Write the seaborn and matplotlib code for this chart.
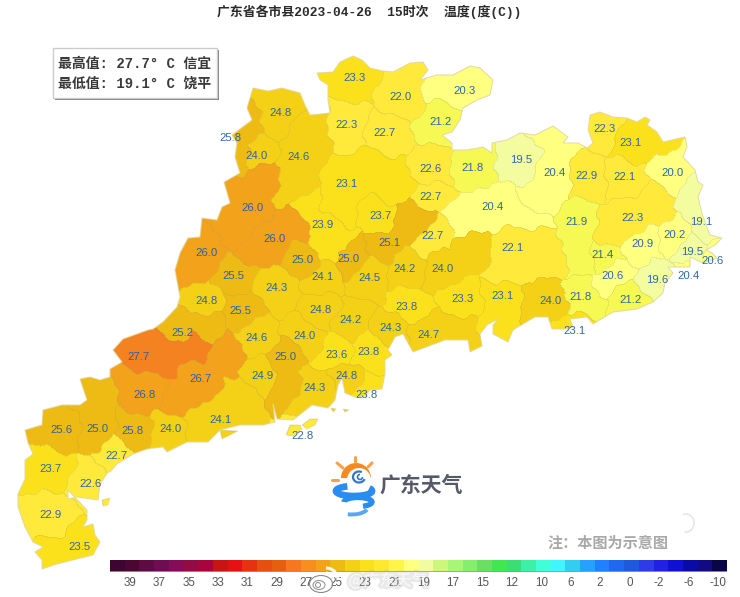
import numpy as np
import pandas as pd
import matplotlib
matplotlib.use("Agg")
import matplotlib.pyplot as plt
import seaborn as sns
from matplotlib.colors import ListedColormap, BoundaryNorm
from matplotlib.path import Path
from matplotlib.patches import Polygon, Rectangle, Wedge, Circle, Arc, Ellipse
import matplotlib.patheffects as pe

# -------------------------------
# DATA (map grid = picture pixels)
# -------------------------------

station_temp = [23.3, 22.0, 20.3, 24.8, 22.3, 22.7, 21.2, 25.8, 24.0, 24.6, 22.6, 21.8, 19.5, 20.4,
                22.3, 23.1, 22.9, 22.1, 20.0, 23.1, 22.7, 20.4, 23.7, 26.0, 23.9, 22.3, 21.9, 19.1,
                26.0, 22.7, 25.1, 22.1, 20.2, 20.9, 26.0, 25.0, 25.0, 24.2, 24.0, 21.4, 19.5, 20.6,
                20.4, 20.6, 19.6, 25.5, 24.1, 24.5, 24.3, 23.3, 23.1, 21.8, 21.2, 24.0, 24.8, 25.5,
                24.8, 23.8, 24.2, 24.3, 24.7, 23.1, 25.2, 24.6, 25.0, 24.0, 23.6, 23.8, 27.7, 26.7,
                26.8, 24.9, 24.3, 24.8, 23.8, 24.1, 25.6, 25.0, 25.8, 24.0, 22.7, 22.8, 23.7, 22.6,
                22.9, 23.5]
station_x = [354, 400, 465, 281, 347, 385, 441, 230, 256, 299, 431, 472, 521, 554,
             604, 631, 587, 624, 672, 346, 430, 492, 381, 252, 322, 632, 577, 701,
             275, 433, 389, 513, 675, 642, 207, 302, 348, 405, 443, 603, 692, 713,
             688, 612, 657, 233, 323, 369, 277, 462, 502, 581, 630, 551, 206, 240,
             321, 406, 351, 390, 428, 574, 182, 256, 285, 305, 336, 368, 138, 200,
             144, 262, 315, 347, 367, 220, 61, 97, 132, 170, 117, 302, 50, 90,
             51, 79]
station_y = [78, 97, 91, 113, 125, 133, 122, 138, 156, 157, 169, 168, 160, 173,
             129, 143, 176, 177, 173, 184, 197, 207, 216, 208, 225, 218, 222, 222,
             239, 236, 243, 248, 235, 244, 253, 260, 259, 269, 269, 255, 252, 261,
             276, 276, 280, 276, 277, 278, 288, 299, 296, 297, 300, 301, 301, 311,
             310, 307, 320, 328, 335, 331, 333, 338, 357, 336, 355, 352, 357, 379,
             395, 376, 388, 376, 395, 420, 430, 429, 431, 429, 456, 436, 469, 484,
             515, 547]

# extra points that give the big counties their shape
extra_temp = [25.8, 25.8, 23.1, 23.1, 23.1, 23.9, 23.9, 24.6, 24.6, 26.0, 26.0, 26.0, 26.0, 26.0,
              26.0, 26.0, 26.0, 27.7, 27.7, 27.7, 26.8, 26.7, 26.7, 25.0, 25.0, 25.2, 24.1, 24.1,
              22.1, 22.1, 22.1, 20.4, 20.4, 20.4, 20.4, 21.9, 22.3, 22.3, 23.1, 19.1, 24.0, 23.1,
              24.7, 25.1, 25.1, 23.5, 24.0, 23.3, 22.0, 20.3, 24.3]
extra_x = [242, 240, 370, 395, 335, 310, 335, 310, 290, 265, 245, 240, 262, 295,
           255, 235, 190, 125, 170, 192, 130, 225, 182, 97, 284, 208, 240, 198,
           530, 548, 506, 530, 466, 555, 540, 582, 655, 612, 650, 696, 472, 500,
           456, 406, 420, 50, 540, 338, 412, 440, 312]
extra_y = [132, 158, 170, 186, 205, 210, 248, 130, 185, 178, 190, 194, 178, 225,
           247, 232, 266, 350, 350, 346, 380, 355, 402, 395, 385, 325, 400, 425,
           238, 256, 268, 218, 218, 140, 200, 255, 205, 231, 135, 195, 250, 326,
           332, 226, 217, 560, 306, 65, 72, 80, 406]

# province outline
outline_x = [253, 268, 282, 300, 305, 310, 330, 328, 328, 320, 317, 333, 340, 353, 362, 370, 383, 393, 410, 423, 428, 420,
             437, 453, 470, 480, 493, 490, 477, 463, 460, 452, 442, 452, 452, 467, 483, 492, 492, 507, 520, 535, 553, 568,
             563, 578, 587, 593, 588, 590, 600, 613, 627, 637, 645, 650, 647, 657, 663, 685, 687, 683, 695, 698, 703, 698,
             703, 710, 722, 715, 706, 712, 717, 703, 690, 690, 678, 668, 673, 665, 663, 653, 637, 613, 593, 587, 570, 573,
             567, 552, 548, 535, 523, 513, 508, 493, 493, 498, 487, 480, 482, 470, 468, 445, 413, 403, 395, 388, 392, 385,
             385, 382, 370, 365, 355, 345, 342, 338, 335, 328, 312, 293, 277, 273, 275, 263, 240, 220, 208, 187, 167, 163,
             147, 133, 117, 110, 108, 100, 98, 77, 68, 68, 87, 87, 83, 93, 95, 100, 93, 73, 57, 42, 42, 35, 43, 33,
             25, 18, 18, 25, 25, 33, 28, 25, 42, 43, 62, 80, 87, 80, 90, 100, 110, 110, 122, 113, 123, 148, 153, 163,
             177, 180, 175, 180, 188, 200, 202, 217, 222, 230, 224, 240, 235, 237, 232, 252, 247]
outline_y = [88, 91, 88, 93, 105, 115, 113, 100, 85, 80, 73, 72, 62, 56, 60, 68, 71, 72, 63, 62, 70, 80,
             75, 75, 66, 68, 80, 95, 100, 108, 120, 132, 135, 143, 150, 150, 147, 153, 143, 140, 133, 135, 126, 137,
             143, 143, 148, 143, 130, 115, 112, 117, 118, 122, 117, 120, 125, 132, 142, 137, 147, 157, 170, 182, 185, 197,
             217, 235, 238, 245, 250, 253, 258, 263, 257, 267, 267, 267, 273, 283, 293, 302, 309, 312, 324, 317, 319, 327,
             329, 329, 317, 317, 324, 330, 342, 334, 325, 319, 325, 334, 346, 352, 340, 340, 352, 334, 337, 350, 355, 360,
             374, 389, 390, 396, 397, 393, 378, 385, 400, 408, 405, 420, 419, 404, 422, 425, 425, 430, 442, 442, 452, 447,
             449, 454, 464, 472, 472, 484, 500, 497, 499, 490, 510, 520, 527, 524, 535, 542, 555, 560, 564, 569, 560, 552, 547, 542,
             527, 507, 494, 479, 460, 454, 443, 430, 425, 410, 405, 405, 400, 379, 377, 380, 377, 369, 362, 350, 339, 330, 329, 322,
             307, 297, 270, 253, 238, 237, 218, 220, 207, 203, 182, 173, 157, 143, 135, 120, 108]

# small islands: x list, y list, temperature
island_x = [[286, 290, 300, 302, 293], [302, 310, 318, 315, 307], [220, 238, 222], [102, 110, 108, 103],
            [331, 336, 333], [343, 349, 345]]
island_y = [[435, 425, 425, 429, 436], [425, 419, 419, 425, 429], [430, 431, 439], [500, 498, 505, 506],
            [408, 409, 412], [409, 410, 412]]
island_temp = [22.8, 22.8, 24.1, 22.6, 24.3, 24.8]

# map colour for each whole degree
map_bounds = [19, 20, 21, 22, 23, 24, 25, 26, 27, 28]
map_colors = ["#f3fda0", "#ffff80", "#f6f853", "#ffe93a", "#fbe11c", "#f4d116", "#eebb14", "#f3a31b", "#f58220"]

# legend strip
scale_colors = ["#3f0530", "#4d0532", "#5f0a42", "#700c50", "#850c58", "#930b45", "#a8053f", "#c81414", "#e41212",
                "#e6320f", "#e6500f", "#e65f0f", "#f57820", "#f78f1e", "#f3a31b", "#eebb14", "#f4d116", "#fbe11c",
                "#ffe92f", "#fff448", "#ffff80", "#f3fba0", "#cdf779", "#a7f777", "#85ee6c", "#69e062", "#41e650",
                "#3ade73", "#3cf0a5", "#40ffd8", "#40f5ff", "#32cdf0", "#28a0ff", "#2080ff", "#2068f0", "#1e5adc",
                "#2d3ce6", "#2320e6", "#1010d2", "#0a0aa5", "#120a82", "#0a0546"]
scale_labels = ["39", "37", "35", "33", "31", "29", "27", "25", "23", "21", "19", "17", "15", "12", "10",
                "6", "2", "0", "-2", "-6", "-10"]

title = "广东省各市县2023-04-26  15时次  温度(度(C))"
box_lines = ["最高值: 27.7° C 信宜", "最低值: 19.1° C 饶平"]

# -------------------------------
# RASTER THE COUNTIES
# -------------------------------

W, H = 740, 597
xx, yy = np.meshgrid(np.arange(W) + 0.5, np.arange(H) + 0.5)

# wavy distance so county borders do not come out as straight lines
wx = xx + 2.4 * np.sin(yy / 6.3) + 1.4 * np.sin(yy / 2.7 + xx / 5.1)
wy = yy + 2.4 * np.sin(xx / 5.7) + 1.4 * np.sin(xx / 2.9 - yy / 4.3)

seed_x = np.array(station_x + extra_x, dtype=float)
seed_y = np.array(station_y + extra_y, dtype=float)
seed_t = np.array(station_temp + extra_temp)
# extra points belong to the county with the nearest same-temperature station
seed_id = list(range(len(station_temp)))
for ex, ey, et in zip(extra_x, extra_y, extra_temp):
    same = [i for i, t in enumerate(station_temp) if t == et]
    d = [(station_x[i] - ex) ** 2 + (station_y[i] - ey) ** 2 for i in same]
    seed_id.append(same[int(np.argmin(d))])
seed_id = np.array(seed_id)

dist = (wx[..., None] - seed_x) ** 2 + (wy[..., None] - seed_y) ** 2
near = dist.argmin(axis=2)
temp_grid = seed_t[near]
id_grid = seed_id[near]

pts = np.column_stack([xx.ravel(), yy.ravel()])
land = Path(np.column_stack([outline_x, outline_y])).contains_points(pts).reshape(H, W)
for k, (ix, iy) in enumerate(zip(island_x, island_y)):
    inside = Path(np.column_stack([ix, iy])).contains_points(pts).reshape(H, W)
    land |= inside
    temp_grid[inside] = island_temp[k]
    id_grid[inside] = 1000 + k

edge = np.zeros_like(land)
edge[:, 1:] |= id_grid[:, 1:] != id_grid[:, :-1]
edge[1:, :] |= id_grid[1:, :] != id_grid[:-1, :]
edge &= land

# -------------------------------
# VISUALIZATION
# -------------------------------

sns.set_theme(style="white")
plt.rcParams['font.family'] = ['Liberation Mono', 'Noto Sans CJK SC', 'DejaVu Sans']

fig = plt.figure(figsize=(7.40, 5.97), dpi=100, facecolor="white")
ax = fig.add_axes([0, 0, 1, 1])

map_cmap = ListedColormap(map_colors)
map_norm = BoundaryNorm(map_bounds, map_cmap.N)
sns.heatmap(pd.DataFrame(temp_grid), mask=~land, cmap=map_cmap, norm=map_norm, cbar=False,
            xticklabels=False, yticklabels=False, ax=ax, rasterized=True)
sns.heatmap(pd.DataFrame(np.ones_like(temp_grid)), mask=~edge, cmap=ListedColormap(["#9a9460"]), alpha=0.2,
            cbar=False, xticklabels=False, yticklabels=False, ax=ax, rasterized=True)

ax.add_patch(Polygon(np.column_stack([outline_x, outline_y]), fill=False, ec="#e2d9a0", lw=0.7))
for ix, iy in zip(island_x, island_y):
    ax.add_patch(Polygon(np.column_stack([ix, iy]), fill=False, ec="#e2d9a0", lw=0.5))
ax.set_xlim(0, W)
ax.set_ylim(H, 0)
ax.axis("off")

# value labels
for x, y, t in zip(station_x, station_y, station_temp):
    ax.text(x, y, f"{t:.1f}", ha="center", va="center", fontsize=8.2, color="#1f5ba8", alpha=0.92,
            family="Liberation Sans")

# title
ax.text(369.5, 12, title, ha="center", va="center", fontsize=9.3, fontweight="bold", color="#2b2b2b")

# max / min box
ax.add_patch(Rectangle((55, 50), 164, 50, fc="#555555", ec="none", alpha=0.75))
ax.add_patch(Rectangle((53, 48), 164, 50, fc="white", ec="#cccccc", lw=1))
for i, line in enumerate(box_lines):
    ax.text(58, 63.5 + i * 20, line, ha="left", va="center", fontsize=10, fontweight="bold", color="#3a3a3a")

# logo
blue = "#2a8cf0"
orange = "#f58a23"
ax.add_patch(Wedge((356, 478), 15, 180, 360, fc=orange, ec="none"))
ax.add_patch(Circle((359, 480), 12, fc="white", ec="none"))
ax.add_patch(Arc((359, 477), 12, 11, theta1=20, theta2=300, ec="#2f78c8", lw=1.6))
ax.add_patch(Arc((360, 477), 5, 5, theta1=0, theta2=270, ec="#2f78c8", lw=1.2))
for x0, y0, x1, y1 in [(332, 480, 338, 480), (337, 463, 343, 468), (355, 457, 355, 462), (372, 463, 368, 467)]:
    ax.plot([x0, x1], [y0, y1], color="#f9a24a", lw=2.2, solid_capstyle="round")
ax.add_patch(Arc((354, 491), 36, 10, theta1=-10, theta2=215, ec=blue, lw=4.8))
ax.add_patch(Arc((358, 502), 28, 9, theta1=180, theta2=400, ec=blue, lw=3.8))
ax.add_patch(Arc((352, 507), 32, 15, theta1=10, theta2=120, ec="#54a8f5", lw=2.8))
ax.text(421.5, 485, "广东天气", ha="center", va="center", fontsize=15, fontweight="bold", color="#555a68",
        family="Noto Sans CJK SC")

# note and faint mark
ax.text(608, 543, "注：本图为示意图", ha="center", va="center", fontsize=10.9, fontweight="bold", color="#a8a8a8",
        family="Noto Sans CJK SC")
ax.add_patch(Arc((686, 523), 16, 18, theta1=-110, theta2=100, ec="#e6e6e6", lw=1.2))

# legend strip
cax = fig.add_axes([110 / W, 1 - 572 / H, 617 / W, 12 / H])
sns.heatmap([list(range(len(scale_colors)))], cmap=ListedColormap(scale_colors), cbar=False,
            xticklabels=False, yticklabels=False, ax=cax)
cax.set_xticks(1.36 + 2 * np.arange(len(scale_labels)))
cax.set_xticklabels(scale_labels, fontsize=8.4, color="#555555", family="Liberation Sans", rotation=0)
cax.tick_params(axis="x", length=0, pad=3.5)
cax.axhline(1, color="#9a92c4", lw=1.2)

# weibo watermark over the strip
ax.set_zorder(3)
ax.patch.set_visible(False)
halo = [pe.withStroke(linewidth=4, foreground="#aaaaaa", alpha=0.25)]
ax.text(388, 581, "@广东天气", ha="center", va="center", fontsize=11.5, color="white", alpha=0.85,
        family="Noto Sans CJK SC", path_effects=halo)
ax.add_patch(Ellipse((321, 584), 23, 17, fc="#ffffff", ec="#777777", lw=0.8, alpha=0.85))
ax.add_patch(Ellipse((319, 585), 12, 9, fc="none", ec="#777777", lw=0.7, alpha=0.85))
ax.add_patch(Circle((318, 585), 2.5, fc="none", ec="#777777", lw=0.7, alpha=0.85))
ax.add_patch(Arc((326, 580), 14, 14, theta1=-90, theta2=0, ec="#ffffff", lw=2.2, alpha=0.95))
ax.add_patch(Arc((326, 580), 24, 24, theta1=-90, theta2=0, ec="#ffffff", lw=2.2, alpha=0.95))

fig.savefig("out.png", dpi=100)
